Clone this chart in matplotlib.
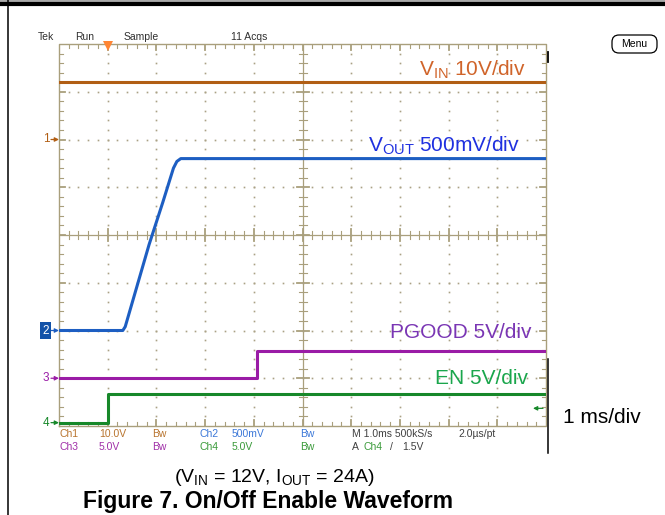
import numpy as np
import matplotlib.pyplot as plt
import matplotlib.transforms as mtransforms
from matplotlib.lines import Line2D
from matplotlib.patches import FancyBboxPatch

plt.rcParams['font.family'] = ['Liberation Sans', 'DejaVu Sans']
scope_font = ['Liberation Sans Narrow', 'Liberation Sans']

W, H = 665, 515

# scope settings: volts per division and ground marker (divisions from bottom)
ch_names = ['1', '2', '3', '4']
volts_per_div = [10.0, 0.5, 5.0, 5.0]
ground_div = [6.0, 2.0, 1.0, 0.07]
trace_colors = ['#b15e14', '#1d5ec2', '#9a1ca6', '#17882a']
label_colors = ['#d0642a', '#1f30e0', '#7a36b4', '#1aa64c']
status_colors = ['#b8742e', '#3c78d8', '#a030a8', '#3a9a3a']

# waveforms, time in ms relative to the EN trigger
t_vin = [-1.0, 9.0]
v_vin = [12.0, 12.0]

t_vout = [-1.0, 0.31, 0.36, 0.85, 1.13, 1.35, 1.42, 1.50, 9.0]
v_vout = [0.0, 0.0, 0.04, 0.90, 1.34, 1.70, 1.77, 1.80, 1.80]

t_pgood = [-1.0, 3.07, 3.07, 9.0]
v_pgood = [0.0, 0.0, 2.9, 2.9]

t_en = [-1.0, 0.0, 0.0, 9.0]
v_en = [0.0, 0.0, 3.0, 3.0]

trig_level = 1.5

waves = [(t_vin, v_vin), (t_vout, v_vout), (t_pgood, v_pgood), (t_en, v_en)]
ch_labels = [r'$\mathregular{V_{IN}}$ 10V/div', r'$\mathregular{V_{OUT}}$ 500mV/div',
             'PGOOD 5V/div', 'EN 5V/div']

fig = plt.figure(figsize=(W / 100, H / 100), dpi=100)
px = mtransforms.Affine2D().scale(1 / W, -1 / H).translate(0, 1) + fig.transFigure

# screen area of the scope graticule, pixels
gl, gt, gr, gb = 59, 44, 546, 426
rect = [gl / W, 1 - gb / H, (gr - gl) / W, (gb - gt) / H]

# graticule in divisions
g = fig.add_axes(rect)
g.set_xlim(0, 10)
g.set_ylim(0, 8)
g.axis('off')
gc = '#a99f7c'
sx = 10 / (gr - gl)
sy = 8 / (gb - gt)
g.plot([0, 10, 10, 0, 0], [0, 0, 8, 8, 0], color=gc, lw=1.0, clip_on=False)
g.plot([5, 5], [0, 8], color=gc, lw=0.9)
g.plot([0, 10], [4, 4], color=gc, lw=0.9)

minor_x = np.round(np.arange(0, 10.001, 0.2), 2)
minor_y = np.round(np.arange(0, 8.001, 0.2), 2)
for x in minor_x[1:-1]:
    major = abs(x - round(x)) < 1e-6
    L = 6 if major else 4
    w = 1.3 if major else 0.8
    g.plot([x, x], [0, L * sy], color=gc, lw=w)
    g.plot([x, x], [8, 8 - L * sy], color=gc, lw=w)
    g.plot([x, x], [4 - L * sy, 4 + L * sy], color=gc, lw=w)
for y in minor_y[1:-1]:
    major = abs(y - round(y)) < 1e-6
    L = 6 if major else 4
    w = 1.3 if major else 0.8
    g.plot([0, L * sx], [y, y], color=gc, lw=w)
    g.plot([10, 10 - L * sx], [y, y], color=gc, lw=w)
    g.plot([5 - L * sx, 5 + L * sx], [y, y], color=gc, lw=w)

dot_x, dot_y = [], []
for xi in [1, 2, 3, 4, 6, 7, 8, 9]:
    for y in minor_y[1:-1]:
        dot_x.append(xi)
        dot_y.append(y)
for yi in [1, 2, 3, 5, 6, 7]:
    for x in minor_x[1:-1]:
        dot_x.append(x)
        dot_y.append(yi)
g.plot(dot_x, dot_y, ls='none', marker='s', ms=1.2, mew=0, color='#aaa184')

# trigger position marker
g.plot(1.0, 8 - 1.5 * sy, marker='v', ms=7, color='#ff8533', mew=0, clip_on=False)

# one overlay axes per channel, scaled in ms and volts
axes = []
for i in range(4):
    ax = fig.add_axes(rect, facecolor='none')
    ax.set_xlim(-1, 9)
    ax.set_ylim(-ground_div[i] * volts_per_div[i], (8 - ground_div[i]) * volts_per_div[i])
    ax.axis('off')
    t, v = waves[i]
    ax.plot(t, v, color=trace_colors[i], lw=2.2, solid_joinstyle='round')
    axes.append(ax)

    # ground marker on the left edge
    blend = mtransforms.blended_transform_factory(px, ax.transData)
    ax.annotate('', xy=(59, 0), xycoords=blend, xytext=(51, 0), textcoords=blend,
                arrowprops=dict(arrowstyle='-|>', color=trace_colors[i], lw=0.9,
                                mutation_scale=6, shrinkA=0, shrinkB=0))
    if i == 1:
        ax.text(45.5, 0, ch_names[i], transform=blend, ha='center', va='center',
                fontsize=8.5, color='white', family=scope_font,
                bbox=dict(boxstyle='square,pad=0.2', fc='#1252a8', ec='none'))
    else:
        ax.text(46, 0, ch_names[i], transform=blend, ha='center', va='center',
                fontsize=8.5, color=trace_colors[i], family=scope_font)

# trigger level arrow on the right edge
ax4 = axes[3]
blend4 = mtransforms.blended_transform_factory(px, ax4.transData)
ax4.annotate('', xy=(533, trig_level), xycoords=blend4, xytext=(543, trig_level),
             textcoords=blend4,
             arrowprops=dict(arrowstyle='-|>', color=trace_colors[3], lw=0.9,
                             mutation_scale=6, shrinkA=0, shrinkB=0))

# channel labels
label_pos = [(526, 76), (520, 152), (531, 338), (528, 384)]
for i in range(4):
    x, y = label_pos[i]
    fig.text(x, y, ch_labels[i], transform=px, ha='right', va='baseline',
             fontsize=15, color=label_colors[i])

fig.text(563, 423, '1 ms/div', transform=px, ha='left', va='baseline', fontsize=15)

# scope header
for s, x in [('Tek', 38), ('Run', 75), ('Sample', 124), ('11 Acqs', 231)]:
    fig.text(x, 37, s, transform=px, ha='left', va='center', fontsize=7.5,
             color='#303030', family=scope_font)

# status lines under the graticule
dark = '#404040'
row1 = [('Ch1', 59, status_colors[0]), ('10.0V', 99, status_colors[0]),
        ('Bw', 152, status_colors[0]), ('Ch2', 199, status_colors[1]),
        ('500mV', 232, status_colors[1]), ('Bw', 300, status_colors[1]),
        ('M 1.0ms 500kS/s', 352, dark), ('2.0\u00b5s/pt', 458, dark)]
row2 = [('Ch3', 59, status_colors[2]), ('5.0V', 99, status_colors[2]),
        ('Bw', 152, status_colors[2]), ('Ch4', 199, status_colors[3]),
        ('5.0V', 232, status_colors[3]), ('Bw', 300, status_colors[3]),
        ('A', 352, dark), ('Ch4', 363, status_colors[3]), ('/', 390, dark),
        ('1.5V', 402, dark)]
for row, y in [(row1, 434), (row2, 447)]:
    for s, x, c in row:
        fig.text(x, y, s, transform=px, ha='left', va='center', fontsize=7.5,
                 color=c, family=scope_font)

# menu button
fig.add_artist(FancyBboxPatch((612, 35), 45, 18, boxstyle='round,pad=0,rounding_size=7',
                              transform=px, fc='white', ec='black', lw=0.9))
fig.text(634.5, 44, 'Menu', transform=px, ha='center', va='center', fontsize=7.5,
         family=scope_font)

# page borders
fig.add_artist(Line2D([0, W], [1, 1], transform=px, color='#999999', lw=1.2))
fig.add_artist(Line2D([0, W], [4, 4], transform=px, color='black', lw=3.0))
fig.add_artist(Line2D([8, 8], [0, H], transform=px, color='black', lw=1.1))
fig.add_artist(Line2D([547.5, 547.5], [359, 453], transform=px, color='black', lw=1.1))
fig.add_artist(Line2D([547.5, 547.5], [52, 62], transform=px, color='black', lw=1.3))

# captions
fig.text(174, 482, r'($\mathregular{V_{IN}}$ = 12V, $\mathregular{I_{OUT}}$ = 24A)',
         transform=px, ha='left', va='baseline', fontsize=14)
fig.text(83, 508, 'Figure 7. On/Off Enable Waveform', transform=px, ha='left',
         va='baseline', fontsize=16.5, fontweight='bold')

fig.savefig('out.png', dpi=100)
